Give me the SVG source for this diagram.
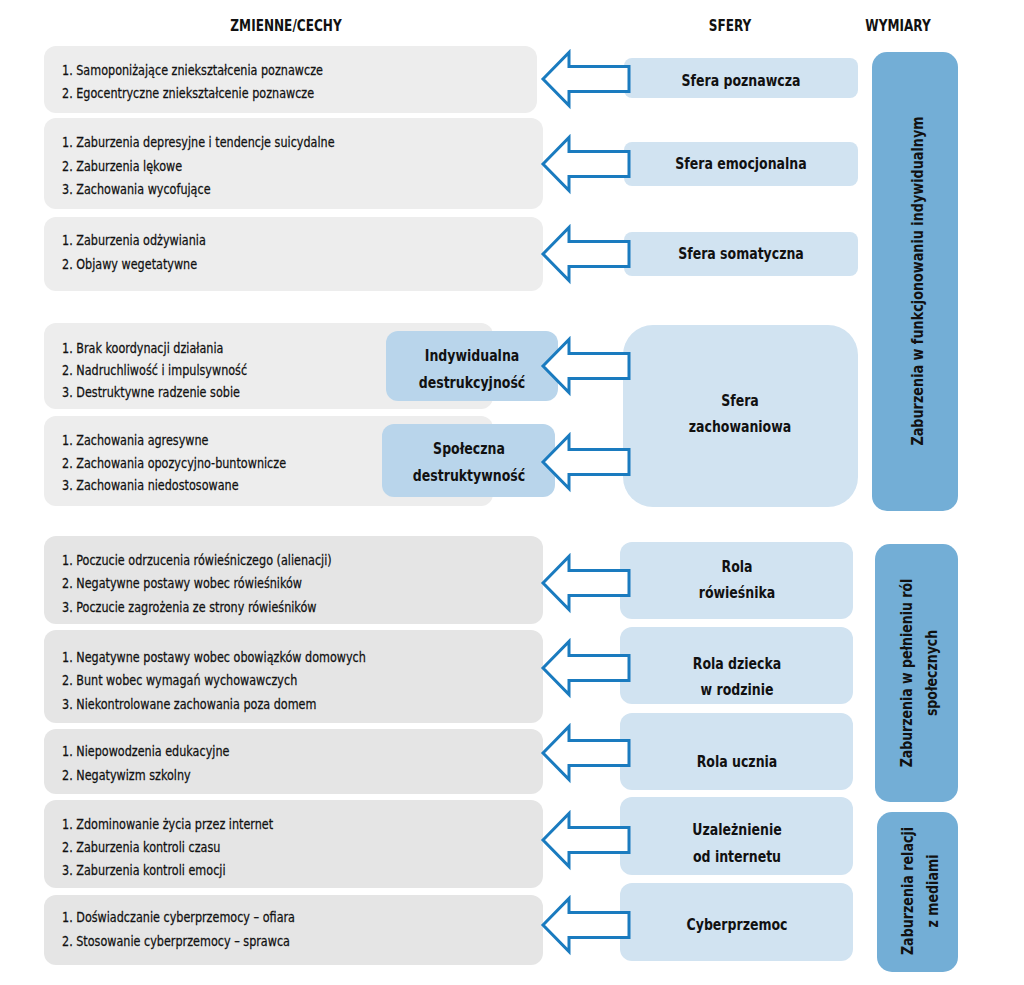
<svg xmlns="http://www.w3.org/2000/svg" xmlns:xlink="http://www.w3.org/1999/xlink" width="1024" height="985" viewBox="0 0 1024 985">
<style>
.g1{fill:#ededed}
.g2{fill:#e5e5e5}
.sf{fill:#d1e3f1}
.sd{fill:#b9d5eb}
.bar{fill:#73aed6}
.t{font-family:"DejaVu Sans Condensed","Liberation Sans",sans-serif;font-stretch:condensed;font-size:14.5px;fill:#111;stroke:#111;stroke-width:0.25}
.b{font-family:"DejaVu Sans Condensed","Liberation Sans",sans-serif;font-stretch:condensed;font-size:16px;font-weight:bold;fill:#111;text-anchor:middle}
.arr{fill:#fff;stroke:#1a7bbf;stroke-width:3;stroke-linejoin:miter}
</style>
<defs>
<path id="arrow" d="M0,0 L26,-26.5 L26,-12.5 L86,-12.5 L86,12.5 L26,12.5 L26,26.5 Z"/>
</defs>
<rect width="1024" height="985" fill="#fff"/>
<g id="headers">
<text class="b" transform="matrix(0.84,0,0,1,286,31)">ZMIENNE/CECHY</text>
<text class="b" transform="matrix(0.84,0,0,1,730,31)">SFERY</text>
<text class="b" transform="matrix(0.84,0,0,1,898,31)">WYMIARY</text>
</g>
<g id="var1"><rect class="g1" x="44" y="46" width="493" height="67" rx="12"/>
<text class="t" transform="matrix(0.86,0,0,1,62,75)">1. Samoponiżające zniekształcenia poznawcze</text>
<text class="t" transform="matrix(0.86,0,0,1,62,98)">2. Egocentryczne zniekształcenie poznawcze</text></g>
<g id="var2"><rect class="g1" x="44" y="118" width="499" height="91" rx="12"/>
<text class="t" transform="matrix(0.86,0,0,1,62,147)">1. Zaburzenia depresyjne i tendencje suicydalne</text>
<text class="t" transform="matrix(0.86,0,0,1,62,171)">2. Zaburzenia lękowe</text>
<text class="t" transform="matrix(0.86,0,0,1,62,194)">3. Zachowania wycofujące</text></g>
<g id="var3"><rect class="g1" x="44" y="217" width="499" height="74" rx="12"/>
<text class="t" transform="matrix(0.86,0,0,1,62,245)">1. Zaburzenia odżywiania</text>
<text class="t" transform="matrix(0.86,0,0,1,62,269)">2. Objawy wegetatywne</text></g>
<g id="var4"><rect class="g1" x="44" y="323" width="449" height="86" rx="12"/>
<text class="t" transform="matrix(0.86,0,0,1,62,353)">1. Brak koordynacji działania</text>
<text class="t" transform="matrix(0.86,0,0,1,62,375)">2. Nadruchliwość i impulsywność</text>
<text class="t" transform="matrix(0.86,0,0,1,62,397)">3. Destruktywne radzenie sobie</text></g>
<g id="var5"><rect class="g1" x="44" y="416" width="449" height="90" rx="12"/>
<text class="t" transform="matrix(0.86,0,0,1,62,445)">1. Zachowania agresywne</text>
<text class="t" transform="matrix(0.86,0,0,1,62,468)">2. Zachowania opozycyjno-buntownicze</text>
<text class="t" transform="matrix(0.86,0,0,1,62,490)">3. Zachowania niedostosowane</text></g>
<g id="var6"><rect class="g2" x="44" y="536" width="499" height="88" rx="12"/>
<text class="t" transform="matrix(0.86,0,0,1,62,565)">1. Poczucie odrzucenia rówieśniczego (alienacji)</text>
<text class="t" transform="matrix(0.86,0,0,1,62,588)">2. Negatywne postawy wobec rówieśników</text>
<text class="t" transform="matrix(0.86,0,0,1,62,612)">3. Poczucie zagrożenia ze strony rówieśników</text></g>
<g id="var7"><rect class="g2" x="44" y="630" width="499" height="93" rx="12"/>
<text class="t" transform="matrix(0.86,0,0,1,62,662)">1. Negatywne postawy wobec obowiązków domowych</text>
<text class="t" transform="matrix(0.86,0,0,1,62,685)">2. Bunt wobec wymagań wychowawczych</text>
<text class="t" transform="matrix(0.86,0,0,1,62,709)">3. Niekontrolowane zachowania poza domem</text></g>
<g id="var8"><rect class="g2" x="44" y="729" width="499" height="65" rx="12"/>
<text class="t" transform="matrix(0.86,0,0,1,62,756)">1. Niepowodzenia edukacyjne</text>
<text class="t" transform="matrix(0.86,0,0,1,62,780)">2. Negatywizm szkolny</text></g>
<g id="var9"><rect class="g2" x="44" y="800" width="499" height="88" rx="12"/>
<text class="t" transform="matrix(0.86,0,0,1,62,829)">1. Zdominowanie życia przez internet</text>
<text class="t" transform="matrix(0.86,0,0,1,62,852)">2. Zaburzenia kontroli czasu</text>
<text class="t" transform="matrix(0.86,0,0,1,62,875)">3. Zaburzenia kontroli emocji</text></g>
<g id="var10"><rect class="g2" x="44" y="895" width="499" height="70" rx="12"/>
<text class="t" transform="matrix(0.86,0,0,1,62,922)">1. Doświadczanie cyberprzemocy – ofiara</text>
<text class="t" transform="matrix(0.86,0,0,1,62,946)">2. Stosowanie cyberprzemocy – sprawca</text></g>

<g id="sub-indywidualna"><rect class="sd" x="386" y="331" width="172" height="70" rx="12"/>
<text class="b" transform="matrix(0.87,0,0,1,472,361)">Indywidualna</text>
<text class="b" transform="matrix(0.87,0,0,1,472,388)">destrukcyjność</text></g>
<g id="sub-spoleczna"><rect class="sd" x="382" y="424" width="173" height="73" rx="12"/>
<text class="b" transform="matrix(0.87,0,0,1,469,454)">Społeczna</text>
<text class="b" transform="matrix(0.87,0,0,1,469,481)">destruktywność</text></g>

<g id="sfera-poznawcza"><rect class="sf" x="624" y="58" width="234" height="40" rx="8"/>
<text class="b" transform="matrix(0.87,0,0,1,741,86)">Sfera poznawcza</text></g>
<g id="sfera-emocjonalna"><rect class="sf" x="624" y="142" width="234" height="44" rx="8"/>
<text class="b" transform="matrix(0.87,0,0,1,741,169)">Sfera emocjonalna</text></g>
<g id="sfera-somatyczna"><rect class="sf" x="624" y="232" width="234" height="44" rx="8"/>
<text class="b" transform="matrix(0.87,0,0,1,741,259)">Sfera somatyczna</text></g>
<g id="sfera-zachowaniowa"><rect class="sf" x="623" y="325" width="235" height="182" rx="30"/>
<text class="b" transform="matrix(0.87,0,0,1,740,406)">Sfera</text>
<text class="b" transform="matrix(0.87,0,0,1,740,432)">zachowaniowa</text></g>
<g id="rola-rowiesnika"><rect class="sf" x="620" y="542" width="233" height="77" rx="12"/>
<text class="b" transform="matrix(0.87,0,0,1,737,572)">Rola</text>
<text class="b" transform="matrix(0.87,0,0,1,737,598)">rówieśnika</text></g>
<g id="rola-dziecka"><rect class="sf" x="620" y="627" width="233" height="77" rx="12"/>
<text class="b" transform="matrix(0.87,0,0,1,737,669)">Rola dziecka</text>
<text class="b" transform="matrix(0.87,0,0,1,737,695)">w rodzinie</text></g>
<g id="rola-ucznia"><rect class="sf" x="620" y="713" width="233" height="77" rx="12"/>
<text class="b" transform="matrix(0.87,0,0,1,737,767)">Rola ucznia</text></g>
<g id="uzaleznienie"><rect class="sf" x="620" y="797" width="233" height="78" rx="12"/>
<text class="b" transform="matrix(0.87,0,0,1,737,835)">Uzależnienie</text>
<text class="b" transform="matrix(0.87,0,0,1,737,862)">od internetu</text></g>
<g id="cyberprzemoc"><rect class="sf" x="620" y="883" width="233" height="78" rx="12"/>
<text class="b" transform="matrix(0.87,0,0,1,737,930)">Cyberprzemoc</text></g>

<g id="wymiar-indywidualny"><rect class="bar" x="872" y="52" width="86" height="459" rx="15"/>
<text class="b" transform="translate(923,281) rotate(-90) scale(0.89,1)">Zaburzenia w funkcjonowaniu indywidualnym</text></g>
<g id="wymiar-spoleczny"><rect class="bar" x="875" y="544" width="83" height="258" rx="15"/>
<text class="b" transform="translate(912,673) rotate(-90) scale(0.87,1)">Zaburzenia w pełnieniu ról</text>
<text class="b" transform="translate(937,673) rotate(-90) scale(0.87,1)">społecznych</text></g>
<g id="wymiar-media"><rect class="bar" x="877" y="812" width="81" height="160" rx="15"/>
<text class="b" transform="translate(913,891) rotate(-90) scale(0.88,1)">Zaburzenia relacji</text>
<text class="b" transform="translate(938,891) rotate(-90) scale(0.88,1)">z mediami</text></g>

<g id="connectors" class="arr">
<use xlink:href="#arrow" x="543" y="79"/>
<use xlink:href="#arrow" x="543" y="164"/>
<use xlink:href="#arrow" x="543" y="254"/>
<use xlink:href="#arrow" x="543" y="366"/>
<use xlink:href="#arrow" x="543" y="462"/>
<use xlink:href="#arrow" x="543" y="583"/>
<use xlink:href="#arrow" x="543" y="668"/>
<use xlink:href="#arrow" x="543" y="753"/>
<use xlink:href="#arrow" x="543" y="840"/>
<use xlink:href="#arrow" x="543" y="925"/>
</g>
</svg>
